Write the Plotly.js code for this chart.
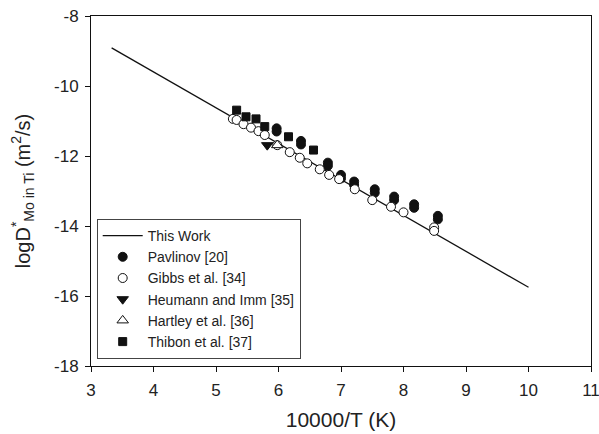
<!DOCTYPE html>
<html>
<head>
<meta charset="utf-8">
<script src="https://cdn.plot.ly/plotly-3.0.1.min.js"></script>
<style>html,body{margin:0;padding:0;background:#fff;}#chart{width:599px;height:434px;}</style>
</head>
<body>
<div id="chart"></div>
<script>
// This Work (fitted line)
const workX = [3.33, 10.0];
const workY = [-8.91, -15.75];

// Pavlinov [20]
const pavlinovX = [5.97, 5.97, 6.36, 6.36, 6.79, 6.79, 7.0, 7.0, 7.21, 7.21, 7.54, 7.54, 7.85, 7.85, 8.17, 8.17, 8.55, 8.55];
const pavlinovY = [-11.21, -11.30, -11.57, -11.67, -12.19, -12.28, -12.54, -12.64, -12.73, -12.83, -12.95, -13.05, -13.16, -13.26, -13.38, -13.48, -13.71, -13.81];

// Gibbs et al. [34]
const gibbsX = [5.27, 5.33, 5.44, 5.56, 5.68, 5.78, 5.98, 6.18, 6.34, 6.46, 6.66, 6.81, 6.97, 7.22, 7.50, 7.80, 8.00, 8.49, 8.49];
const gibbsY = [-10.94, -10.97, -11.09, -11.19, -11.29, -11.40, -11.69, -11.89, -12.05, -12.21, -12.38, -12.54, -12.66, -12.95, -13.26, -13.45, -13.61, -14.04, -14.14];

// Heumann and Imm [35]
const heumannX = [5.82];
const heumannY = [-11.69];

// Hartley et al. [36]
const hartleyX = [5.98];
const hartleyY = [-11.69];

// Thibon et al. [37]
const thibonX = [5.33, 5.48, 5.64, 5.78, 6.16, 6.56];
const thibonY = [-10.69, -10.88, -10.94, -11.16, -11.45, -11.83];

const xTicks = [3, 4, 5, 6, 7, 8, 9, 10, 11];
const yTicks = [-18, -16, -14, -12, -10, -8];

const ink = '#111';
const traces = [
  {x: workX, y: workY, mode: 'lines', name: 'This Work', line: {color: ink, width: 1.3}},
  {x: pavlinovX, y: pavlinovY, mode: 'markers', name: 'Pavlinov [20]',
   marker: {symbol: 'circle', size: 9, color: ink, line: {color: ink, width: 1}}},
  {x: gibbsX, y: gibbsY, mode: 'markers', name: 'Gibbs et al. [34]',
   marker: {symbol: 'circle', size: 9, color: '#fff', line: {color: ink, width: 1}}},
  {x: heumannX, y: heumannY, mode: 'markers', name: 'Heumann and Imm [35]',
   marker: {symbol: 'triangle-down', size: 10, color: ink, line: {color: ink, width: 1}}},
  {x: hartleyX, y: hartleyY, mode: 'markers', name: 'Hartley et al. [36]',
   marker: {symbol: 'triangle-up', size: 10, color: '#fff', line: {color: ink, width: 1}}},
  {x: thibonX, y: thibonY, mode: 'markers', name: 'Thibon et al. [37]',
   marker: {symbol: 'square', size: 8, color: ink, line: {color: ink, width: 1}}}
];

const layout = {
  width: 599, height: 434,
  margin: {l: 91, r: 8, t: 16, b: 68},
  paper_bgcolor: '#fff', plot_bgcolor: '#fff',
  font: {family: 'Liberation Sans, Arial, sans-serif', color: '#222', size: 17},
  showlegend: true,
  legend: {
    x: 0.0114, y: 0.02, xanchor: 'left', yanchor: 'bottom',
    bgcolor: '#fff', bordercolor: '#444', borderwidth: 1,
    font: {size: 14, color: '#222'}, tracegroupgap: 0, itemwidth: 40
  },
  xaxis: {
    range: [3, 11], tickvals: xTicks, ticktext: xTicks.map(String),
    showline: true, mirror: true, linecolor: ink, linewidth: 1,
    ticks: 'outside', ticklen: 5, tickcolor: ink, showgrid: false, zeroline: false,
    tickfont: {size: 17}, ticklabeloverflow: 'allow', ticklabelstandoff: 4,
    title: {text: '10000/T (K)', font: {size: 21}, standoff: 12}
  },
  yaxis: {
    range: [-18, -8], tickvals: yTicks, ticktext: yTicks.map(String),
    showline: true, mirror: true, linecolor: ink, linewidth: 1,
    ticks: 'outside', ticklen: 5, tickcolor: ink, showgrid: false, zeroline: false,
    tickfont: {size: 17}, ticklabelstandoff: 3,
    title: {text: 'logD<sup>*</sup><sub>Mo in Ti</sub> (m<sup>2</sup>/s)', font: {size: 20}, standoff: 18}
  }
};

Plotly.newPlot('chart', traces, layout, {staticPlot: true, displayModeBar: false});
</script>
</body>
</html>
